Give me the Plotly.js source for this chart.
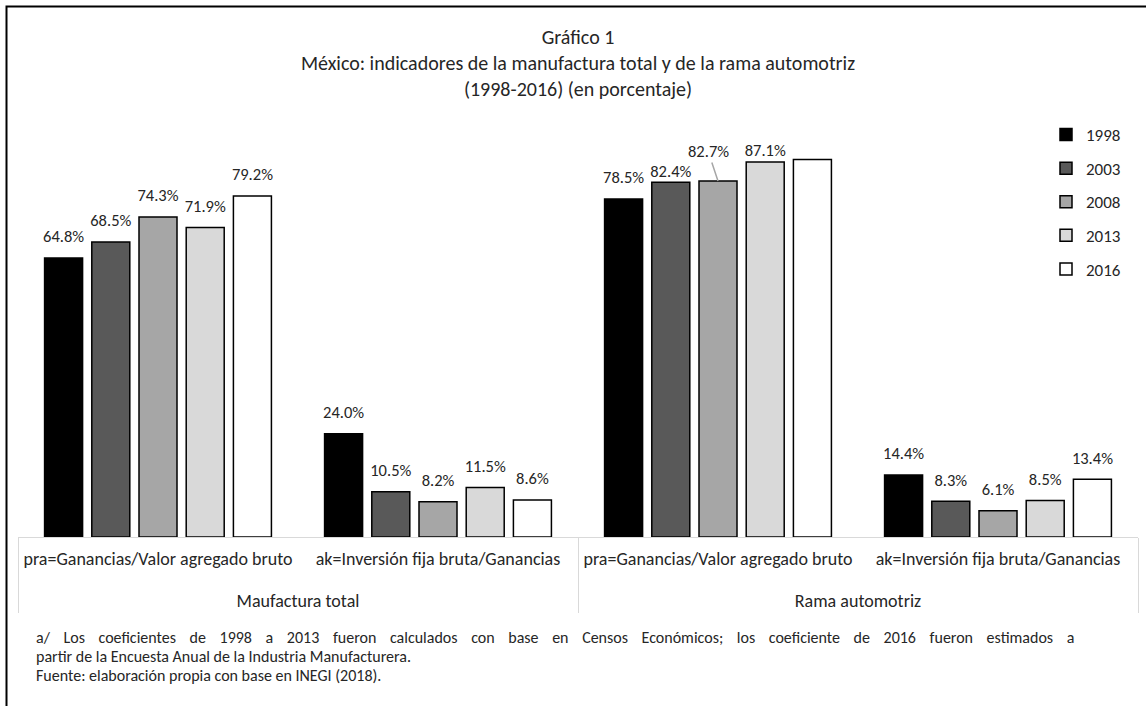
<!DOCTYPE html>
<html>
<head>
<meta charset="utf-8">
<script src="https://cdn.plot.ly/plotly-3.0.1.min.js"></script>
<style>html,body{margin:0;padding:0;background:#fff;}#chart{width:1146px;height:706px;}</style>
</head>
<body>
<div id="chart"></div>
<script>
// ---- data ----
const groups = ["Maufactura total", "Maufactura total", "Rama automotriz", "Rama automotriz"];
const indicators = [
  "pra=Ganancias/Valor agregado bruto",
  "ak=Inversión fija bruta/Ganancias",
  "pra=Ganancias/Valor agregado bruto",
  "ak=Inversión fija bruta/Ganancias"
];
const years = ["1998", "2003", "2008", "2013", "2016"];
const v1998 = [64.8, 24.0, 78.5, 14.4];
const v2003 = [68.5, 10.5, 82.4, 8.3];
const v2008 = [74.3, 8.2, 82.7, 6.1];
const v2013 = [71.9, 11.5, 87.1, 8.5];
const v2016 = [79.2, 8.6, 87.7, 13.4];
const seriesValues = [v1998, v2003, v2008, v2013, v2016];
// labels not drawn over the bar (category index); 2008 one is drawn with a leader line
const noLabel = {"2008": [2], "2016": [2]};
// labels that sit closer to their bar in the original
const closeLabel = {"2003": [2], "2013": [2]};
const calloutYear = "2008", calloutIndex = 2;

const titleText = "Gráfico 1<br>México: indicadores de la manufactura total y de la rama automotriz<br>(1998-2016) (en porcentaje)";
const noteLines = [
  "a/ Los coeficientes de 1998 a 2013 fueron calculados con base en Censos Económicos; los coeficiente de 2016 fueron estimados a",
  "partir de la Encuesta Anual de la Industria Manufacturera.",
  "Fuente: elaboración propia con base en INEGI (2018)."
];

// ---- style ----
const FONT = "Carlito, Lato, 'Liberation Sans', sans-serif";
const colors = ["#000000", "#595959", "#a6a6a6", "#d9d9d9", "#ffffff"];
const textColor = "#262626";
const BARGAP = 0.157, GROUPGAP = 0.195;
const LABEL_PAD = 17, LABEL_PAD_CLOSE = 1;

const W = 1146, H = 706;
const mL = 18, mR = 8, mT = 128, mB = 169;
const plotW = W - mL - mR, plotH = H - mT - mB;
const pxX = px => (px - mL) / plotW;
const pxY = py => (H - mB - py) / plotH;

// inner tick text gets an empty second line so the group row sits lower
const innerTickText = indicators.map(s => s + "<br>\u00a0");

const traces = [];
years.forEach((yr, i) => {
  traces.push({
    type: "bar",
    name: yr,
    legendgroup: yr,
    x: [groups, innerTickText],
    y: seriesValues[i],
    offsetgroup: yr,
    marker: {color: colors[i], line: {color: "#000000", width: 1.5}},
    hoverinfo: "skip"
  });
});
years.forEach((yr, i) => {
  const hide = noLabel[yr] || [];
  const close = closeLabel[yr] || [];
  traces.push({
    type: "scatter",
    mode: "markers+text",
    legendgroup: yr,
    showlegend: false,
    x: [groups, innerTickText],
    y: seriesValues[i],
    offsetgroup: yr,
    text: seriesValues[i].map((v, j) => hide.includes(j) ? "" : v.toFixed(1) + "%"),
    textposition: "top center",
    textfont: {family: FONT, size: 16.5, color: textColor},
    marker: {
      size: seriesValues[i].map((v, j) => close.includes(j) ? LABEL_PAD_CLOSE : LABEL_PAD),
      color: "rgba(0,0,0,0)",
      opacity: 0,
      line: {width: 0, color: "rgba(0,0,0,0)"}
    },
    cliponaxis: false,
    hoverinfo: "skip"
  });
});

const calloutVal = seriesValues[years.indexOf(calloutYear)][calloutIndex];

const annotations = [{
  xref: "x", yref: "y",
  x: calloutIndex, y: calloutVal,
  text: calloutVal.toFixed(1) + "%",
  showarrow: true, arrowhead: 0, arrowwidth: 1.5, arrowcolor: "#a6a6a6",
  ax: -10, ay: -30, standoff: 0,
  font: {family: FONT, size: 16.5, color: textColor}
}];
const noteY = [637, 656, 675];
noteLines.forEach((t, k) => {
  annotations.push({
    xref: "paper", yref: "paper",
    x: pxX(34), y: pxY(noteY[k]),
    xanchor: "left", yanchor: "middle",
    text: k === 0 ? '<span style="word-spacing:10px">' + t + '</span>' : t,
    showarrow: false, align: "left",
    font: {family: FONT, size: 16, color: textColor}
  });
});

const layout = {
  width: W, height: H,
  margin: {l: mL, r: mR, t: mT, b: mB, pad: 0},
  paper_bgcolor: "#ffffff",
  plot_bgcolor: "#ffffff",
  font: {family: FONT, size: 16, color: textColor},
  title: {
    text: titleText,
    x: 0.5, xref: "paper", xanchor: "center",
    y: 1 - 44 / H, yref: "container", yanchor: "top",
    font: {family: FONT, size: 20, color: textColor}
  },
  barmode: "group",
  bargap: BARGAP,
  bargroupgap: GROUPGAP,
  scattermode: "group",
  scattergap: BARGAP,
  showlegend: true,
  legend: {
    x: pxX(1046), xanchor: "left",
    y: pxY(117), yanchor: "top",
    orientation: "v",
    traceorder: "grouped",
    tracegroupgap: 8.5,
    bgcolor: "rgba(0,0,0,0)",
    font: {family: FONT, size: 17, color: textColor}
  },
  xaxis: {
    type: "multicategory",
    showline: true, linecolor: "#d9d9d9", linewidth: 1,
    ticks: "", showgrid: false, zeroline: false,
    showdividers: true, dividercolor: "#d9d9d9", dividerwidth: 1,
    ticklabelstandoff: 5,
    tickfont: {family: FONT, size: 18, color: textColor},
    fixedrange: true
  },
  yaxis: {
    range: [0, 95], visible: false, showgrid: false, zeroline: false, fixedrange: true
  },
  shapes: [{
    type: "rect", xref: "paper", yref: "paper",
    x0: pxX(6.5), y0: -2, x1: 3, y1: pxY(6.5),
    line: {color: "#000000", width: 2}, fillcolor: "rgba(0,0,0,0)", layer: "above"
  }],
  annotations: annotations
};

Plotly.newPlot("chart", traces, layout, {displayModeBar: false, staticPlot: true});
</script>
</body>
</html>
